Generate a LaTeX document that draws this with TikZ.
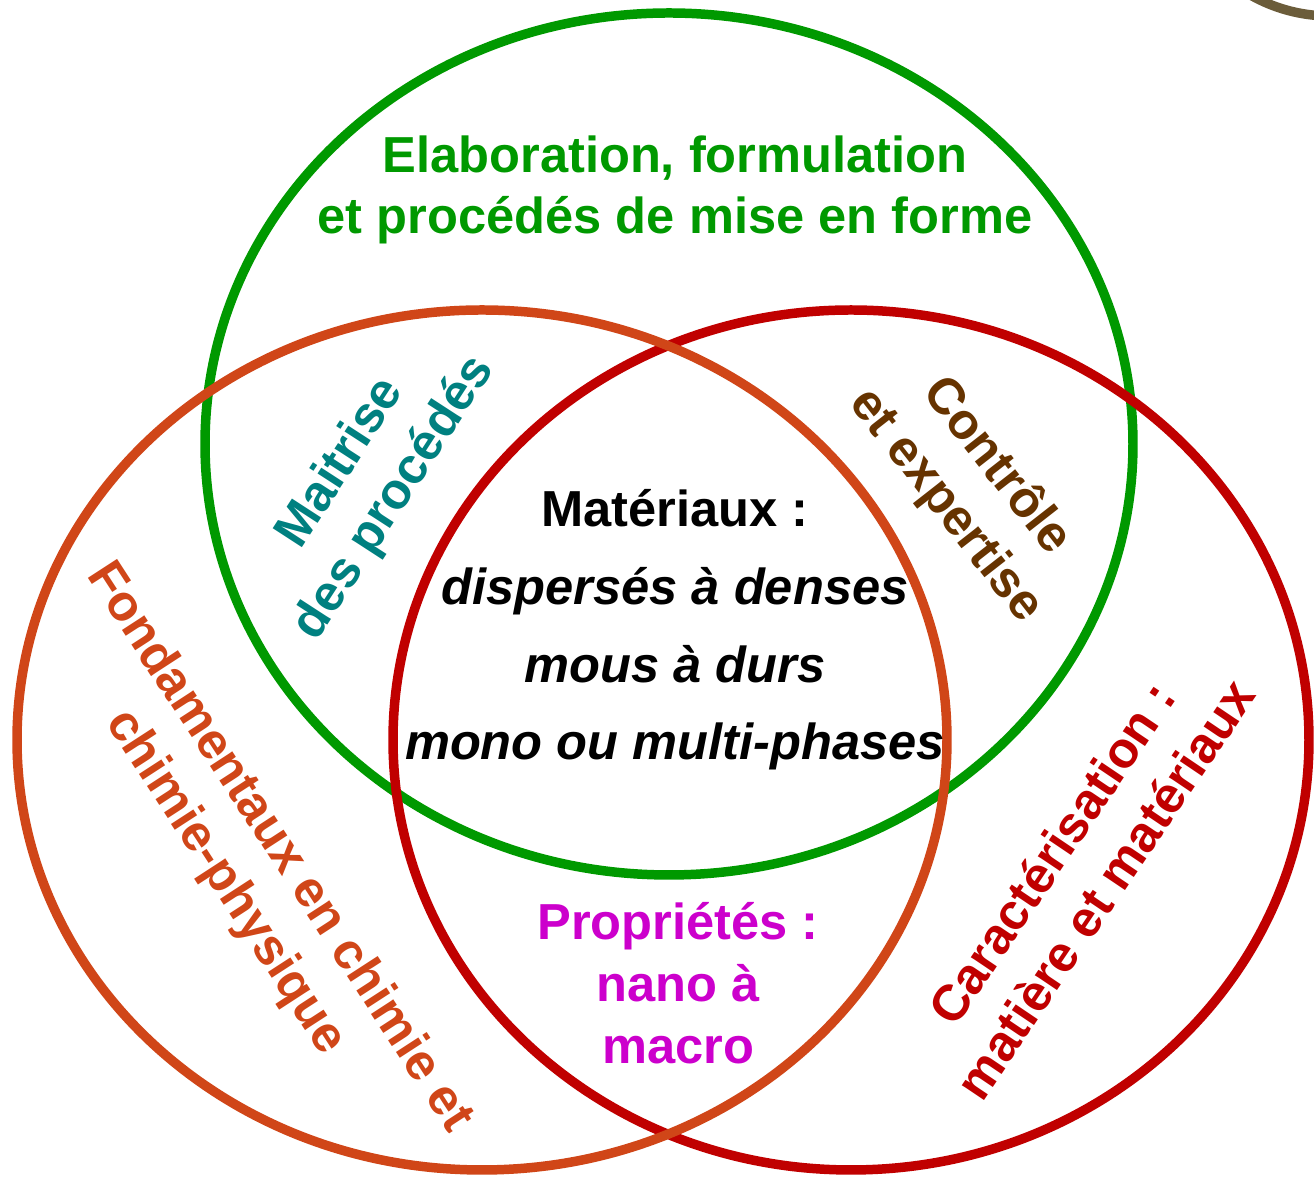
\documentclass[tikz,border=0pt]{standalone}
\usepackage{fontspec}
\setmainfont{Liberation Sans}
\definecolor{vertcercle}{RGB}{0,153,0}
\definecolor{orangecercle}{RGB}{208,70,24}
\definecolor{rougecercle}{RGB}{192,0,0}
\definecolor{sarcelle}{RGB}{0,128,128}
\definecolor{brun}{RGB}{102,51,0}
\definecolor{violet}{RGB}{204,0,204}
\definecolor{grisbrun}{RGB}{107,92,58}

\begin{document}
\begin{tikzpicture}[x=0.1mm,y=-0.1mm,
  every node/.style={font=\bfseries\fontsize{14.4}{18.2}\selectfont, align=center, inner sep=0pt},
  cercle/.style={line width=2.7pt},
  interligne/.style={font=\bfseries\fontsize{14.4}{#1}\selectfont}]
\useasboundingbox (0,0) rectangle (1314,1178);
\begin{scope}
  \clip (0,0) rectangle (1314,1178);
  \draw[grisbrun,cercle] (1330,-145) circle [radius=16.1mm];
\end{scope}
\draw[vertcercle,cercle] (669,444) ellipse [x radius=46.4mm, y radius=43.1mm];
\draw[rougecercle,cercle] (851,740) ellipse [x radius=45.8mm, y radius=43mm];
\draw[orangecercle,cercle] (482,740) ellipse [x radius=46.5mm, y radius=43mm];

\node[vertcercle,interligne=17.3] (elaboration) at (675,190)
  {Elaboration, formulation\\et procédés de mise en forme};
\node[interligne=22.1] (materiaux) at (675,630)
  {Matériaux :\\\textit{dispersés à denses}\\\textit{mous à durs}\\\textit{mono ou multi-phases}};
\node[violet,interligne=17.6] (proprietes) at (678,983)
  {Propriétés :\\nano à\\macro};
\node[sarcelle,rotate=57] (maitrise) at (368,481)
  {Maitrise\\des procédés};
\node[brun,rotate=-52] (controle) at (971,486)
  {Contrôle\\et expertise};
\node[orangecercle,rotate=-57] (fondamentaux) at (252,865)
  {Fondamentaux en chimie et\\chimie-physique};
\node[rougecercle,rotate=56] (caracterisation) at (1078,871)
  {Caractérisation :\\matière et matériaux};
\end{tikzpicture}
\end{document}
